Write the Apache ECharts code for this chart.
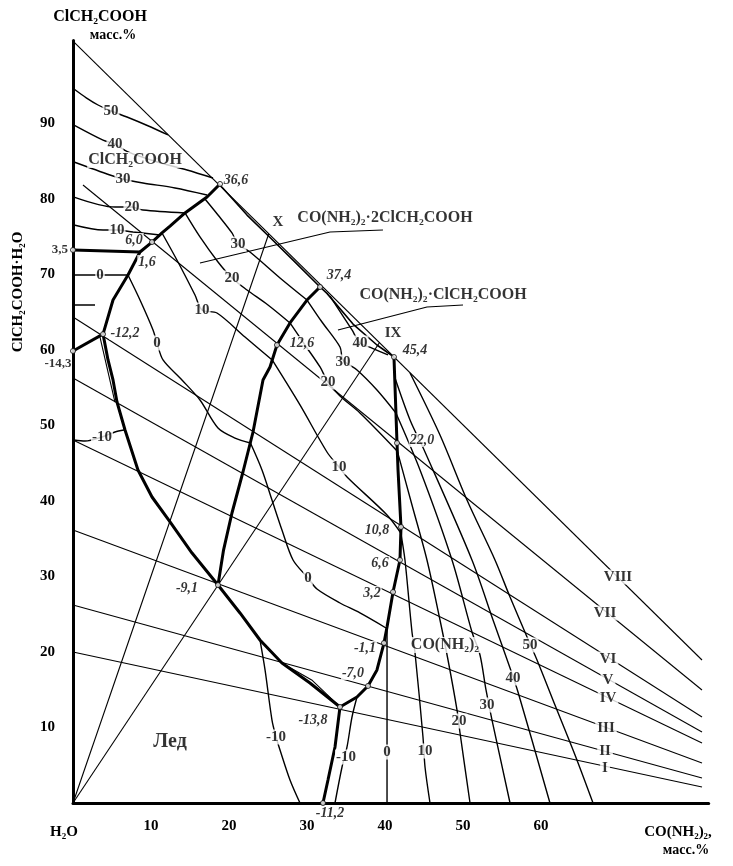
<!DOCTYPE html>
<html><head><meta charset="utf-8">
<script src="https://cdn.jsdelivr.net/npm/echarts/dist/echarts.min.js"></script>
<style>html,body{margin:0;padding:0;background:#fff}#c{width:733px;height:866px}</style>
</head><body><div id="c"></div>
<script>
// ---------- tick labels ----------
const xTickLabels = [10, 20, 30, 40, 50, 60];
const yTickLabels = [10, 20, 30, 40, 50, 60, 70, 80, 90];

// ---------- frame ----------
const hypotenuse = [[0, 100.9], [80.64, 18.94]];

// ---------- sections ----------
const secI = [[0, 20.0], [80.64, 2.12]];
const secII = [[0, 26.23], [80.64, 3.31]];
const secIII = [[0, 36.16], [80.64, 5.30]];
const secIV = [[0, 48.08], [80.64, 7.95]];
const secV = [[0, 56.29], [80.64, 9.40]];
const secVI = [[0, 64.37], [80.64, 11.39]];
const secVII = [[1.28, 81.85], [80.64, 14.97]];
const secIX = [[0, 0], [39.3, 61.0]];
const secX = [[0, 0], [25.1, 75.4]];

// ---------- boundary curves (thick) ----------
const curveA = [[18.85, 81.99], [17.18, 80.26], [14.36, 78.15], [12.44, 76.42], [11.41, 75.50], [10.13, 74.30], [8.59, 72.98], [7.05, 69.93], [5.13, 66.62], [3.85, 62.1]];
const curve143 = [[0, 59.87], [3.85, 62.1]];
const curveIce = [[3.85, 62.1], [4.49, 58.68], [5.13, 56.03], [5.64, 53.11], [6.67, 49.40], [8.33, 44.11], [10.13, 40.53], [12.44, 37.22], [15.26, 33.11], [18.59, 28.87], [21.41, 25.17], [23.97, 21.59], [26.79, 18.54], [30.38, 15.89], [34.23, 12.72]];
const curveB = [[31.67, 68.34], [30.0, 66.62], [27.82, 63.58], [26.15, 60.66], [25.26, 57.75], [24.36, 56.03], [23.08, 49.14], [21.79, 43.84], [20.38, 38.41], [19.3, 33.5], [18.59, 28.87]];
const curveRight = [[34.23, 12.72], [36.41, 14.04], [37.82, 15.50], [38.97, 17.62], [39.87, 21.19], [40.26, 23.31], [41.03, 27.95], [41.92, 32.19], [42.05, 36.56], [41.67, 44.11], [41.54, 47.68], [41.15, 59.07]];
const curveBottom = [[34.23, 12.72], [33.59, 7.42], [32.69, 3.05], [32.05, 0]];
const line35 = [[0, 73.25], [8.59, 72.98]];
const nearHyp1 = [[18.85, 81.85], [22.31, 77.87], [25.26, 74.9], [28.21, 71.9], [31.67, 68.34]];
const nearHyp2 = [[31.67, 68.34], [32.56, 67.5], [35.9, 63.44], [38.97, 60.66], [41.15, 59.07]];
const dblIce1 = [[3.46, 61.72], [5.38, 53.11]];
const dblIce2 = [[26.79, 18.54], [30.6, 16.3], [34.23, 12.72]];

// ---------- isotherms ----------
const iso50a = [[0.13, 94.57], [1.7, 93.4], [3.21, 92.45], [4.87, 91.66], [6.92, 90.86], [9.6, 89.7], [12.18, 88.48]];
const iso40a = [[0.13, 89.80], [3.85, 87.81], [5.38, 87.28], [7.05, 86.23], [10.5, 85.0], [14.62, 83.84], [17.95, 82.78]];
const iso30a = [[0.13, 84.90], [4.74, 83.18], [6.41, 82.65], [8.97, 82.12], [13.08, 81.46], [17.18, 80.53]];
const iso20a = [[0.13, 80.26], [5.38, 78.94], [7.56, 78.94], [8.97, 78.54], [14.36, 78.15]];
const iso10a = [[0.13, 76.56], [3.85, 75.89], [5.64, 75.89], [7.69, 75.63], [11.15, 75.23]];
const iso0a = [[0.13, 69.93], [7.05, 69.93]];
const iso30b = [[16.92, 80.0], [18.59, 77.88], [20.38, 75.50], [21.15, 74.04], [22.69, 72.98], [26.54, 69.54], [30.0, 66.62]];
const iso20b = [[14.36, 78.15], [16.28, 74.97], [18.59, 71.66], [20.38, 69.54], [22.31, 67.95], [25.0, 65.96], [27.82, 63.58]];
const iso10b = [[11.41, 75.50], [13.46, 71.66], [15.64, 67.28], [16.54, 65.30], [18.46, 64.90], [22.05, 61.72], [25.54, 58.68]];
const iso0b = [[7.05, 69.93], [8.59, 66.62], [10.26, 62.65], [10.77, 60.93], [11.54, 58.68], [13.97, 56.03], [16.28, 53.38], [18.59, 49.67], [20.77, 48.34], [22.75, 47.68]];
const iso40c = [[32.95, 67.15], [35.77, 62.65], [36.79, 60.93], [38.33, 60.26], [40.38, 59.34]];
const iso30c = [[30.0, 66.62], [31.92, 63.71], [34.23, 60.40], [34.62, 58.68], [36.41, 57.35], [38.97, 54.70], [41.40, 51.66]];
const iso20c = [[27.82, 63.58], [29.74, 60.66], [31.67, 57.75], [32.69, 55.76], [34.23, 53.91], [36.79, 51.66], [41.58, 46.6]];
const iso10c = [[25.54, 58.68], [29.10, 52.72], [32.56, 46.49], [34.10, 44.50], [35.26, 43.05], [40.26, 38.15], [42.03, 35.76]];
const iso0c = [[22.75, 47.68], [24.23, 44.11], [25.51, 40.13], [26.79, 36.16], [28.21, 32.19], [30.13, 29.80], [31.28, 28.34], [34.23, 26.49], [36.79, 25.17], [40.13, 23.18]];
const iso0u = [[40.26, 23.31], [40.26, 0]];
const iso10u = [[42.03, 35.76], [42.56, 32.19], [43.46, 22.65], [43.85, 19.87], [44.87, 8.74], [45.13, 4.77], [45.77, 0]];
const iso20u = [[41.58, 46.6], [43.46, 39.47], [45.38, 32.19], [47.05, 24.24], [48.08, 18.94], [49.23, 12.32], [49.62, 9.27], [50.90, 0]];
const iso30u = [[41.40, 51.66], [44.49, 44.11], [48.59, 32.19], [51.15, 22.65], [52.18, 19.60], [52.95, 14.97], [53.72, 10.99], [56.03, 0]];
const iso40u = [[41.24, 56.42], [43.21, 50.73], [45.13, 46.49], [51.15, 32.19], [53.85, 24.24], [56.03, 17.88], [57.05, 14.70], [61.15, 0]];
const iso50u = [[43.21, 56.95], [47.05, 48.74], [50.51, 40.13], [54.10, 32.19], [56.03, 27.28], [58.21, 21.99], [59.49, 18.94], [61.79, 12.98], [64.36, 6.36], [66.67, 0]];
const isoM10u = [[36.41, 14.04], [35.77, 11.39], [35.13, 7.42], [34.49, 4.77], [33.59, 0]];
const isoM10ice = [[23.97, 21.59], [24.62, 17.62], [25.51, 10.99], [26.03, 8.74], [26.54, 7.02], [27.82, 3.05], [29.10, 0]];
const isoM10ice2 = [[0.13, 48.08], [1.54, 47.95], [3.72, 48.48], [5.38, 49.14], [6.54, 49.40]];

// ---------- leaders / brackets ----------
const lead1 = [[16.28, 71.52], [32.95, 75.63], [39.74, 75.89]];
const lead2 = [[33.97, 62.65], [45.38, 65.70], [50.0, 65.96]];
const bracketV = [[-5.13, 75.63], [-5.13, 59.74]];
const bracketH = [[-5.13, 65.96], [2.82, 65.96]];

// ---------- points ----------
const keyPoints = [[0, 73.25], [0, 59.87], [18.85, 81.99], [10.13, 74.30], [3.85, 62.1], [31.67, 68.34], [26.15, 60.66], [41.15, 59.07], [41.54, 47.68], [42.05, 36.56], [41.92, 32.19], [41.03, 27.95], [39.87, 21.19], [37.82, 15.50], [34.23, 12.72], [32.05, 0], [18.59, 28.87]];

// ---------- labels ----------
const pointLabels = [[20.9, 82.52, '36,6'], [7.82, 74.57, '6,0'], [9.49, 71.66, '1,6'], [6.67, 62.25, '-12,2'], [34.10, 69.93, '37,4'], [29.36, 60.93, '12,6'], [43.85, 60.0, '45,4'], [44.74, 48.08, '22,0'], [38.97, 36.16, '10,8'], [39.36, 31.79, '6,6'], [38.33, 27.81, '3,2'], [37.44, 20.53, '-1,1'], [35.90, 17.22, '-7,0'], [30.77, 10.99, '-13,8'], [14.62, 28.48, '-9,1'], [32.95, -1.32, '-11,2']];
const sidePointLabels = [[-1.67, 73.25, '3,5'], [-1.92, 58.15, '-14,3']];
const sectionLabels = [[26.28, 76.95, 'X'], [41.03, 62.25, 'IX'], [69.87, 29.93, 'VIII'], [68.21, 25.17, 'VII'], [68.59, 19.07, 'VI'], [68.59, 16.29, 'V'], [68.59, 13.91, 'IV'], [68.33, 9.93, 'III'], [68.21, 6.89, 'II'], [68.21, 4.64, 'I']];
const isoLabels = [[4.87, 91.66, '50'], [5.38, 87.28, '40'], [6.41, 82.65, '30'], [7.56, 78.94, '20'], [5.64, 75.89, '10'], [3.46, 69.93, '0'],
  [21.15, 74.04, '30'], [20.38, 69.54, '20'], [16.54, 65.30, '10'], [10.77, 60.93, '0'],
  [36.79, 60.93, '40'], [34.62, 58.41, '30'], [32.69, 55.76, '20'], [34.10, 44.50, '10'], [30.13, 29.80, '0'],
  [40.26, 6.75, '0'], [45.13, 6.89, '10'], [49.49, 10.86, '20'], [53.08, 12.98, '30'], [56.41, 16.56, '40'], [58.59, 20.93, '50'],
  [35.0, 6.09, '-10'], [26.03, 8.74, '-10'], [3.72, 48.48, '-10']];
const regionLabels = [[7.95, 85.17, 'ClCH₂COOH'], [40.0, 77.48, 'CO(NH₂)₂·2ClCH₂COOH'], [47.44, 67.28, 'CO(NH₂)₂·ClCH₂COOH'], [47.69, 20.93, 'CO(NH₂)₂']];
const iceLabel = [[12.44, 8.08, 'Лед']];

const FONT = '"Liberation Serif", "DejaVu Serif", serif';

function ln(data, width, extra) {
  return Object.assign({ type: 'line', data: data, symbol: 'none', silent: true, z: 2,
    lineStyle: { color: '#000', width: width }, animation: false }, extra || {});
}
function labels(arr, opts, z) {
  return { type: 'scatter', data: arr.map(d => ({ value: [d[0], d[1]], name: d[2] })),
    symbolSize: 1, itemStyle: { color: 'rgba(0,0,0,0)' }, silent: true, clip: false, z: z || 10, animation: false,
    label: Object.assign({ show: true, position: 'inside', formatter: '{b}', fontFamily: FONT, fontWeight: 'bold',
      fontSize: 15, color: '#000' }, opts) };
}

const thin = [hypotenuse, secI, secII, secIII, secIV, secV, secVI, secVII, secIX, secX].map(d => ln(d, 1.1));
const isos = [iso50a, iso40a, iso30a, iso20a, iso10a, iso0a, iso30b, iso20b, iso10b, iso0b, iso40c, iso30c, iso20c, iso10c, iso0c,
  iso0u, iso10u, iso20u, iso30u, iso40u, iso50u, isoM10u, isoM10ice, isoM10ice2].map(d => ln(d, 1.4, { smooth: 0.3 }));
const thick = [curveA, curve143, curveIce, curveB, curveRight, curveBottom, line35].map(d => ln(d, 3, { z: 3 }));
const medium = [nearHyp1, nearHyp2].map(d => ln(d, 1.6));
const extraThin = [dblIce1, dblIce2, lead1, lead2].map(d => ln(d, 1.1));
const outside = [bracketV, bracketH].map(d => ln(d, 1.3, { clip: false }));

const chart = echarts.init(document.getElementById('c'), null, { renderer: 'canvas' });
chart.setOption({
  animation: false,
  backgroundColor: '#fff',
  grid: { left: 73, right: 24.3, top: 40.45, bottom: 63, containLabel: false },
  xAxis: { type: 'value', min: 0, max: 81.5, interval: 10,
    axisLine: { show: true, onZero: false, lineStyle: { color: '#000', width: 3 } },
    axisTick: { show: false }, splitLine: { show: false },
    axisLabel: { margin: 16, fontFamily: FONT, fontWeight: 'bold', fontSize: 15, color: '#000',
      formatter: v => xTickLabels.includes(v) ? String(v) : '' } },
  yAxis: { type: 'value', min: 0, max: 101, interval: 10,
    axisLine: { show: true, onZero: false, lineStyle: { color: '#000', width: 3 } },
    axisTick: { show: false }, splitLine: { show: false },
    axisLabel: { margin: 18, fontFamily: FONT, fontWeight: 'bold', fontSize: 15, color: '#000',
      formatter: v => yTickLabels.includes(v) ? String(v) : '' } },
  graphic: [
    { type: 'text', x: 100, y: 17, style: { text: 'ClCH₂COOH', font: 'bold 16px ' + FONT, fill: '#000', textAlign: 'center', textVerticalAlign: 'middle', align: 'center', verticalAlign: 'middle' } },
    { type: 'text', x: 113, y: 35, style: { text: 'масс.%', font: 'bold 14px ' + FONT, fill: '#000', textAlign: 'center', textVerticalAlign: 'middle', align: 'center', verticalAlign: 'middle' } },
    { type: 'text', x: 64, y: 832, style: { text: 'H₂O', font: 'bold 15px ' + FONT, fill: '#000', textAlign: 'center', textVerticalAlign: 'middle', align: 'center', verticalAlign: 'middle' } },
    { type: 'text', x: 678, y: 832, style: { text: 'CO(NH₂)₂,', font: 'bold 15px ' + FONT, fill: '#000', textAlign: 'center', textVerticalAlign: 'middle', align: 'center', verticalAlign: 'middle' } },
    { type: 'text', x: 686, y: 850, style: { text: 'масс.%', font: 'bold 14px ' + FONT, fill: '#000', textAlign: 'center', textVerticalAlign: 'middle', align: 'center', verticalAlign: 'middle' } },
    { type: 'text', x: 18, y: 292, rotation: Math.PI / 2, style: { text: 'ClCH₂COOH·H₂O', font: 'bold 15px ' + FONT, fill: '#000', textAlign: 'center', textVerticalAlign: 'middle', align: 'center', verticalAlign: 'middle' } }
  ],
  series: [].concat(thin, isos, thick, medium, extraThin, outside, [
    { type: 'scatter', data: keyPoints, symbol: 'circle', symbolSize: 5, clip: false, silent: true, z: 12, animation: false,
      itemStyle: { color: '#fff', borderColor: '#000', borderWidth: 1 } },
    labels(pointLabels, { fontStyle: 'italic', fontSize: 14, backgroundColor: '#fff', padding: [0, 1] }, 11),
    labels(sidePointLabels, { fontSize: 13 }, 11),
    labels(sectionLabels, { fontSize: 15, backgroundColor: '#fff', padding: [0, 2] }, 10),
    labels(isoLabels, { fontSize: 15, backgroundColor: '#fff', padding: [0, 1] }, 10),
    labels(regionLabels, { fontSize: 16, backgroundColor: '#fff', padding: [0, 1] }, 10),
    labels(iceLabel, { fontSize: 20 }, 10)
  ])
});
</script></body></html>
